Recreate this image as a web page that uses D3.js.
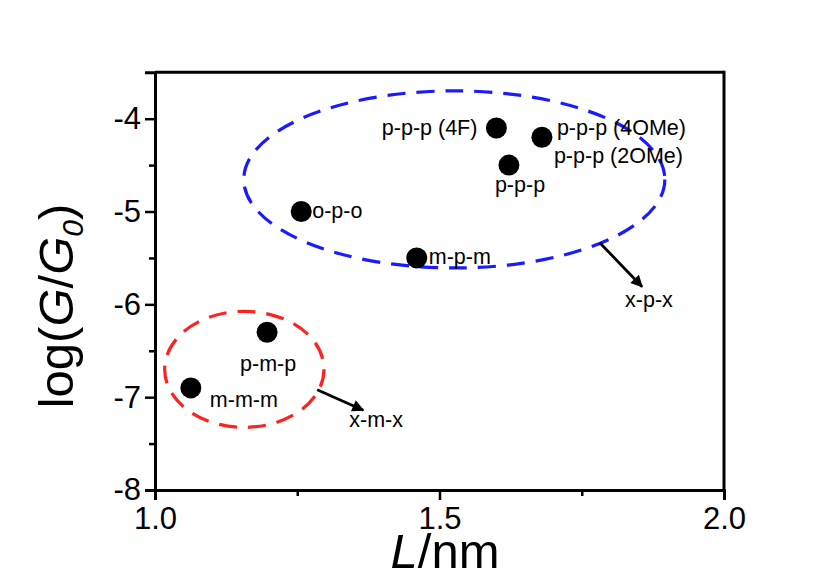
<!DOCTYPE html>
<html>
<head>
<meta charset="utf-8">
<script src="https://cdn.jsdelivr.net/npm/d3@7"></script>
<style>
  html, body { margin: 0; padding: 0; background: #fff; }
  svg { display: block; font-family: "Liberation Sans", Arial, sans-serif; }
</style>
</head>
<body>
<svg id="chart" width="825" height="578"></svg>
<script>
// ---- data ----
const molecules = ["p-p-p (4F)", "p-p-p (4OMe)", "p-p-p", "o-p-o", "m-p-m", "p-m-p", "m-m-m"];
const lengthNm  = [1.60, 1.68, 1.622, 1.257, 1.46, 1.197, 1.063];
const logG      = [-4.10, -4.20, -4.50, -5.00, -5.50, -6.30, -6.90];
const extraLabel = "p-p-p (2OMe)";           // shares the (4OMe) point
const xTicks = [1.0, 1.5, 2.0];
const xMinorTicks = [1.25, 1.75];
const yTicks = [-8, -7, -6, -5, -4];
const yMinorTicks = [-7.5, -6.5, -5.5, -4.5];
const groupNames = ["x-p-x", "x-m-x"];
// ellipse groups: center x, center y, half-width (nm), half-height (log units)
const groupCx = [1.526, 1.157];
const groupCy = [-4.654, -6.70];
const groupRx = [0.370, 0.140];
const groupRy = [0.954, 0.625];
// arrows from ellipse edge to group label (data coords)
const arrowX1 = [1.782, 1.285];
const arrowY1 = [-5.338, -6.92];
const arrowX2 = [1.856, 1.366];
const arrowY2 = [-5.81, -7.14];

// ---- layout / style ----
const W = 825, H = 578;
const plot = { left: 155, right: 724, top: 72.3, bottom: 490 };
const groupColors = ["#1a1aff", "#ff2020"];
const labelFont = "21.5px";
// label placement relative to point (px): dx, dy, anchor
const labelPos = [
  { dx: -19, dy: 7, anchor: "end" },
  { dx: 15, dy: -2, anchor: "start" },
  { dx: -14, dy: 27, anchor: "start" },
  { dx: 11, dy: 6, anchor: "start" },
  { dx: 12, dy: 6, anchor: "start" },
  { dx: -27, dy: 39, anchor: "start" },
  { dx: 19, dy: 19, anchor: "start" }
];
const extraPos = { dx: 12, dy: 26 };
const groupLabelPos = [{ dx: -17, dy: 20 }, { dx: -14, dy: 17 }];

const svg = d3.select("#chart");
const x = d3.scaleLinear().domain([1.0, 2.0]).range([plot.left, plot.right]);
const y = d3.scaleLinear().domain([-8, -3.5]).range([plot.bottom, plot.top]);

svg.append("rect").attr("width", W).attr("height", H).attr("fill", "#fff");

// defs: arrowhead
svg.append("defs").append("marker")
  .attr("id", "arrow").attr("viewBox", "0 0 10 10")
  .attr("refX", 9).attr("refY", 5)
  .attr("markerUnits", "userSpaceOnUse")
  .attr("markerWidth", 17).attr("markerHeight", 12)
  .attr("orient", "auto")
  .append("path").attr("d", "M0,0 L10,5 L0,10 Z").attr("fill", "#000");

// frame (top and right)
svg.append("line").attr("x1", plot.left).attr("x2", plot.right)
  .attr("y1", plot.top).attr("y2", plot.top)
  .attr("stroke", "#000").attr("stroke-width", 3);
svg.append("line").attr("x1", plot.right).attr("x2", plot.right)
  .attr("y1", plot.top - 1.5).attr("y2", plot.bottom)
  .attr("stroke", "#000").attr("stroke-width", 3);

// axes
const xAxis = svg.append("g").attr("transform", `translate(0,${plot.bottom})`)
  .call(d3.axisBottom(x).tickValues(xTicks).tickFormat(d3.format(".1f")).tickSize(10).tickPadding(7));
const xMinor = svg.append("g").attr("transform", `translate(0,${plot.bottom})`)
  .call(d3.axisBottom(x).tickValues(xMinorTicks).tickFormat("").tickSize(6));
const yAxis = svg.append("g").attr("transform", `translate(${plot.left},0)`)
  .call(d3.axisLeft(y).tickValues(yTicks).tickFormat(d3.format("d")).tickSize(10).tickPadding(4));
const yMinor = svg.append("g").attr("transform", `translate(${plot.left},0)`)
  .call(d3.axisLeft(y).tickValues(yMinorTicks).tickFormat("").tickSize(6));

[xAxis, xMinor, yAxis, yMinor].forEach(g => {
  g.select(".domain").attr("stroke", "#000").attr("stroke-width", 3);
  g.selectAll(".tick line").attr("stroke", "#000").attr("stroke-width", 2.5);
  g.selectAll("text").attr("fill", "#000")
    .style("font-family", '"Liberation Sans", Arial, sans-serif')
    .style("font-size", "31px");
});
xAxis.selectAll("text").attr("dy", "0.72em");
yAxis.selectAll("text").text(d => d < 0 ? "-" + Math.abs(d) : d);
yMinor.select(".domain").remove();
xMinor.select(".domain").remove();

// axis titles
svg.append("text").attr("x", 445).attr("y", 568).attr("text-anchor", "middle")
  .style("font-size", "49px")
  .call(t => {
    t.append("tspan").attr("font-style", "italic").text("L");
    t.append("tspan").text("/nm");
  });
svg.append("text").attr("transform", "translate(73,306) rotate(-90)").attr("text-anchor", "middle")
  .style("font-size", "49px")
  .call(t => {
    t.append("tspan").text("log(");
    t.append("tspan").attr("font-style", "italic").text("G");
    t.append("tspan").text("/");
    t.append("tspan").attr("font-style", "italic").text("G");
    t.append("tspan").attr("font-style", "italic").attr("font-size", "30px").attr("dy", 10).text("0");
    t.append("tspan").attr("dy", -10).text(")");
  });

// ellipses
const groups = groupNames.map((name, i) => ({ name, i }));
svg.selectAll("ellipse.group").data(groups).join("ellipse")
  .attr("class", "group")
  .attr("cx", d => x(groupCx[d.i])).attr("cy", d => y(groupCy[d.i]))
  .attr("rx", d => x(groupCx[d.i] + groupRx[d.i]) - x(groupCx[d.i]))
  .attr("ry", d => y(groupCy[d.i] - groupRy[d.i]) - y(groupCy[d.i]))
  .attr("fill", "none").attr("stroke", d => groupColors[d.i])
  .attr("stroke-width", 3.2).attr("stroke-dasharray", "18,11");

// arrows
svg.selectAll("line.arrow").data(groups).join("line")
  .attr("class", "arrow")
  .attr("x1", d => x(arrowX1[d.i])).attr("y1", d => y(arrowY1[d.i]))
  .attr("x2", d => x(arrowX2[d.i])).attr("y2", d => y(arrowY2[d.i]))
  .attr("stroke", "#000").attr("stroke-width", 2.8)
  .attr("marker-end", "url(#arrow)");
svg.selectAll("text.group").data(groups).join("text")
  .attr("class", "group")
  .attr("x", d => x(arrowX2[d.i]) + groupLabelPos[d.i].dx)
  .attr("y", d => y(arrowY2[d.i]) + groupLabelPos[d.i].dy)
  .style("font-size", labelFont).attr("fill", "#000")
  .text(d => d.name);

// points
const pts = molecules.map((m, i) => ({ m, i, x: lengthNm[i], y: logG[i] }));
svg.selectAll("circle.pt").data(pts).join("circle")
  .attr("class", "pt")
  .attr("cx", d => x(d.x)).attr("cy", d => y(d.y)).attr("r", 10.5)
  .attr("fill", "#000");
svg.selectAll("text.pt").data(pts).join("text")
  .attr("class", "pt")
  .attr("x", d => x(d.x) + labelPos[d.i].dx)
  .attr("y", d => y(d.y) + labelPos[d.i].dy)
  .attr("text-anchor", d => labelPos[d.i].anchor)
  .style("font-size", labelFont).attr("fill", "#000")
  .text(d => d.m);
svg.append("text")
  .attr("x", x(lengthNm[1]) + extraPos.dx)
  .attr("y", y(logG[1]) + extraPos.dy)
  .style("font-size", labelFont).attr("fill", "#000")
  .text(extraLabel);
</script>
</body>
</html>
